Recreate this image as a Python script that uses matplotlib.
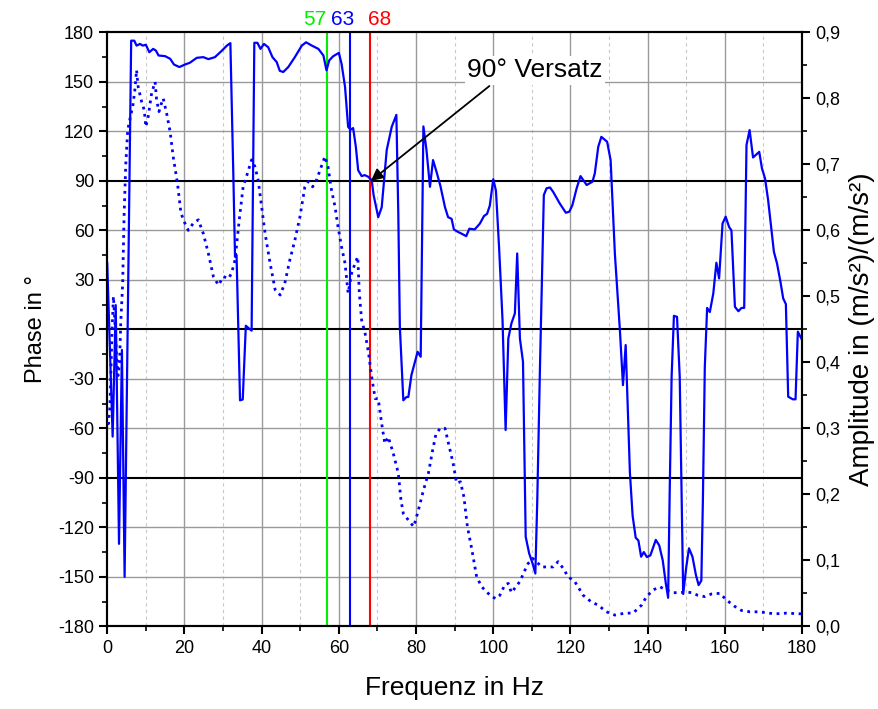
import numpy as np
import matplotlib
matplotlib.use("Agg")
import matplotlib.pyplot as plt
from matplotlib.ticker import MultipleLocator

plt.rcParams["font.family"] = ["Liberation Sans", "DejaVu Sans"]

# phase curve (solid, left axis)
freq_phase = [0, 1.4, 2.2, 3.05, 3.8, 4.5, 6.2, 7.0, 7.6, 8.5, 9.2, 10.0, 10.9, 11.9, 12.6, 13.3,
              15.0, 16.3, 17.3, 18.7, 20.1, 21.4, 23.2, 24.9, 26.2, 27.9, 29.6, 31.0, 31.9, 32.7,
              33.1, 33.5, 34.4, 35.1, 35.9, 37.4, 38.1, 38.9, 39.7, 40.6, 41.7, 42.8, 43.9, 44.7,
              45.6, 46.9, 48.6, 50.4, 51.5, 53.0, 54.7, 56.0, 56.8, 57.5, 58.5, 60.0, 60.7, 61.6,
              62.4, 63.0, 63.7, 64.4, 65.0, 65.9, 66.7, 67.6, 68.5, 69.0, 70.2, 71.1, 72.4, 73.7,
              74.9, 75.4, 75.8, 76.7, 77.5, 78.0, 78.8, 80.4, 81.2, 81.9, 82.7, 83.6, 84.4, 85.3,
              86.3, 87.5, 88.3, 89.2, 89.8, 90.9, 91.8, 93.0, 93.8, 95.2, 96.5, 97.6, 98.4, 99.1,
              100.0, 100.7, 101.5, 102.4, 103.2, 103.9, 104.7, 105.6, 106.2, 106.9, 107.7, 108.4,
              109.3, 110.2, 110.9, 111.4, 112.1, 113.1, 113.8, 114.7, 115.5, 117.2, 118.8, 119.7,
              120.5, 121.6, 122.6, 124.2, 125.7, 126.3, 127.2, 128.0, 129.5, 130.4, 131.5, 132.8,
              133.6, 134.3, 135.4, 136.1, 136.9, 137.6, 138.3, 139.0, 139.8, 140.7, 142.1, 143.0,
              143.9, 144.7, 145.3, 145.7, 146.2, 146.8, 147.6, 148.3, 149.2, 150.0, 150.7, 151.6,
              152.5, 153.2, 153.9, 154.3, 154.8, 155.4, 156.1, 157.0, 157.8, 158.5, 159.4, 160.2,
              161.1, 161.7, 162.6, 163.5, 164.3, 165.0, 165.6, 166.4, 167.3, 168.9, 169.6, 170.4,
              171.2, 172.7, 173.5, 174.4, 175.1, 175.8, 176.4, 177.6, 178.3, 178.9, 179.8]
phase = [40, -65, 14.7, -130, -12.5, -150, 175, 175, 172, 173, 172, 172.5, 168, 170, 169, 166,
         165.6, 164, 160.5, 159, 160.5, 161.6, 164.6, 165, 163.8, 165, 168.7, 172, 173.5, 90,
         44, 45, -43, -42.5, 2.2, -0.8, 173.7, 173.7, 170, 173, 171, 165, 162, 156.7,
         156, 159, 165, 172, 174, 172, 170, 166, 157, 163, 165.5, 167.6, 161, 147,
         122.8, 121, 122, 110.7, 96.5, 92.9, 93.5, 92.5, 90.5, 81.4, 68, 74, 108.7, 122.8,
         130, 70, 1.6, -43, -41, -41, -27.7, -13.6, -16.6, 123, 108.7, 86.4, 102.6, 95.5,
         87, 74, 68, 67, 60.6, 59, 58, 56.5, 61, 60.6, 64, 68.7, 70, 75,
         91, 84, 50, 5.6, -61, -5.5, 3.6, 9.7, 46, -5.5, -19.6, -125.7,
         -135.8, -142, -148, -103.5, -22.7, 81.4, 85.5, 86, 83.4, 76.4, 70.7, 71.3,
         75.3, 85.5, 92.9, 87.5, 89.5, 94.5, 110.7, 116.7, 113.7, 102.6, 46, -0.4,
         -33.8, -9.5, -87, -113, -126.3, -128, -137.8, -135, -138, -137, -127.6, -131,
         -140, -154, -162.7, -99, -28.7, 8.2, 7.6, -28.7, -160.4, -144, -132.7, -137.8,
         -148.9, -155, -152.3, -104, -22.7, 13, 10.5, 21.8, 40.4, 30.9, 64.2, 68.3,
         62, 60, 13.7, 11, 13, 13, 111.7, 120.8, 104.2, 107.6, 97.6, 91.5,
         78.4, 47, 40, 28.8, 18.8, 15.3, -40.8, -42.4, -42.4, -1.4, -5.5]

# amplitude curve (dotted, right axis)
freq_amp = [0, 0.3, 0.7, 1.2, 1.6, 2.0, 2.4, 2.8, 3.2, 3.5, 4.0, 4.35, 4.8, 5.3, 6.1, 6.6, 7.2,
            7.6, 8.0, 8.9, 9.6, 10.0, 10.6, 11.5, 12.4, 12.8, 13.4, 13.9, 14.5, 15.4, 16.3,
            17.1, 18.2, 19.1, 20.1, 21.0, 22.3, 23.6, 24.9, 26.2, 27.5, 28.8, 30.1, 31.4, 32.2,
            33.1, 34.2, 35.2, 36.3, 37.4, 38.3, 39.1, 40.0, 40.9, 42.2, 43.5, 44.8, 46.0, 47.3,
            48.6, 49.9, 51.2, 52.1, 53.2, 54.2, 55.1, 56.4, 57.2, 58.1, 59.0, 59.8, 60.7, 61.6,
            62.4, 63.3, 64.2, 64.9, 65.3, 65.9, 66.8, 67.7, 68.5, 69.4, 70.2, 71.1, 71.9, 72.8,
            74.1, 75.4, 76.1, 76.7, 78.0, 79.4, 80.6, 81.9, 83.2, 84.3, 85.1, 86.2, 87.5, 88.6,
            89.6, 90.5, 91.5, 92.4, 93.3, 94.4, 95.7, 97.0, 98.3, 99.6, 100.7, 101.7, 103.0,
            103.9, 104.7, 105.6, 106.9, 108.2, 109.0, 110.2, 111.2, 112.5, 113.8, 115.5, 116.8,
            118.1, 119.4, 121.1, 123.3, 125.4, 127.2, 129.3, 131.5, 134.1, 136.2, 138.4, 139.7,
            141.4, 143.1, 144.9, 146.6, 148.3, 150.0, 151.4, 153.0, 154.8, 156.5, 158.7, 160.4,
            162.6, 164.3, 166.5, 169.0, 171.2, 173.3, 176.0, 179.4, 180.0]
amplitude = [0.32, 0.307, 0.333, 0.44, 0.50, 0.46, 0.41, 0.38, 0.40, 0.46, 0.52, 0.62, 0.70, 0.752,
             0.775, 0.787, 0.815, 0.843, 0.818, 0.795, 0.782, 0.757, 0.772, 0.808, 0.825, 0.797,
             0.78, 0.79, 0.80, 0.777, 0.749, 0.711, 0.671, 0.626, 0.611, 0.60, 0.611, 0.616,
             0.595, 0.565, 0.53, 0.517, 0.53, 0.527, 0.535, 0.555, 0.616, 0.666, 0.686, 0.707,
             0.696, 0.676, 0.636, 0.595, 0.55, 0.51, 0.502, 0.52, 0.555, 0.585, 0.62, 0.666,
             0.674, 0.666, 0.676, 0.691, 0.712, 0.696, 0.661, 0.636, 0.605, 0.575, 0.55, 0.505,
             0.535, 0.55, 0.56, 0.505, 0.464, 0.444, 0.414, 0.378, 0.345, 0.345, 0.307, 0.277,
             0.287, 0.262, 0.232, 0.191, 0.171, 0.161, 0.151, 0.176, 0.206, 0.232, 0.267, 0.29,
             0.30, 0.30, 0.272, 0.247, 0.217, 0.219, 0.196, 0.151, 0.118, 0.075, 0.06, 0.052,
             0.045, 0.042, 0.047, 0.063, 0.065, 0.051, 0.058, 0.068, 0.085, 0.095, 0.103, 0.098,
             0.09, 0.09, 0.09, 0.098, 0.088, 0.075, 0.068, 0.047, 0.037, 0.032, 0.022, 0.017,
             0.02, 0.02, 0.032, 0.045, 0.055, 0.06, 0.055, 0.051, 0.051, 0.052, 0.051, 0.047,
             0.045, 0.049, 0.05, 0.04, 0.03, 0.024, 0.022, 0.022, 0.02, 0.019, 0.02, 0.019, 0.019]

marker_freqs = [57, 63, 68]
marker_colors = ["#00ee00", "#0000ff", "#ff0000"]
marker_label_x = [53.7, 61.0, 70.6]

phase_ticks = list(range(-180, 181, 30))
amp_ticks = [i / 10 for i in range(10)]
amp_labels = [f"{v:.1f}".replace(".", ",") for v in amp_ticks]

fig = plt.figure(figsize=(8.79, 7.09), dpi=100)
ax = fig.add_axes([0.122, 0.1166, 0.7905, 0.8377])

# grid
for f in range(20, 180, 20):
    ax.axvline(f, color="#9a9a9a", lw=1.0, zorder=0)
for f in range(10, 180, 20):
    ax.axvline(f, color="#c8c8c8", lw=0.8, ls=(0, (3, 3)), zorder=0)
for p in phase_ticks:
    if p in (-90, 0, 90):
        ax.axhline(p, color="black", lw=1.5, zorder=1)
    elif abs(p) != 180:
        ax.axhline(p, color="#9a9a9a", lw=1.0, zorder=0)

for f, c in zip(marker_freqs, marker_colors):
    ax.axvline(f, color=c, lw=1.5, zorder=2)
for f, c, lx in zip(marker_freqs, marker_colors, marker_label_x):
    ax.text(lx, 182, str(f), color=c, fontsize=15, ha="center", va="bottom")

ax.plot(freq_phase, phase, color="#0000ff", lw=1.6, zorder=3)

ax.set_xlim(0, 180)
ax.set_ylim(-180, 180)
ax.xaxis.set_major_locator(MultipleLocator(20))
ax.xaxis.set_minor_locator(MultipleLocator(10))
ax.set_yticks(phase_ticks)
ax.set_yticklabels([str(p) for p in phase_ticks])
ax.yaxis.set_minor_locator(MultipleLocator(15))
ax.tick_params(which="major", direction="out", length=6, width=1.5, labelsize=13)
ax.tick_params(which="minor", direction="out", length=3.5, width=1.2)
ax.set_xlabel("Frequenz in Hz", fontsize=19, labelpad=14)
ax.set_ylabel("Phase in °", fontsize=17, labelpad=8)
for s in ax.spines.values():
    s.set_linewidth(1.5)

# label with white box, arrow drawn from just below it to the 68 Hz crossing
ax.text(110.8, 157, "90° Versatz", fontsize=19, ha="center", va="center", zorder=5,
        bbox=dict(boxstyle="square,pad=0.1", fc="white", ec="none"))
ax.annotate("", xy=(68.3, 90), xytext=(99.0, 147.5),
            arrowprops=dict(arrowstyle="-|>", color="black", lw=1.3,
                            mutation_scale=18, shrinkA=0, shrinkB=0),
            zorder=5)

ax2 = ax.twinx()
ax2.plot(freq_amp, amplitude, color="#0000ff", lw=2, ls=":", zorder=3)
ax2.set_ylim(0, 0.9)
ax2.set_yticks(amp_ticks)
ax2.set_yticklabels(amp_labels)
ax2.yaxis.set_minor_locator(MultipleLocator(0.05))
ax2.tick_params(which="major", direction="out", length=6, width=1.5, labelsize=13)
ax2.tick_params(which="minor", direction="out", length=3.5, width=1.2)
ax2.set_ylabel("Amplitude in (m/s²)/(m/s²)", fontsize=20, labelpad=6)
for s in ax2.spines.values():
    s.set_linewidth(1.5)

fig.savefig("out.png", dpi=100)
